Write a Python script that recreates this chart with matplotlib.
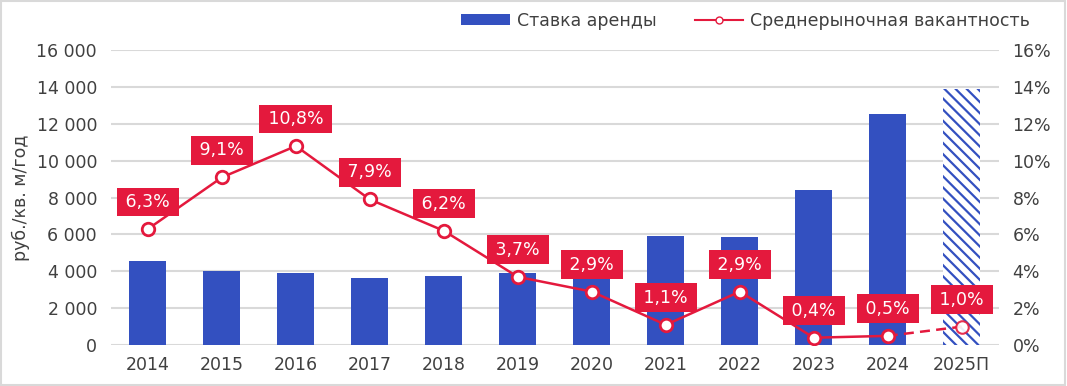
import numpy as np
import matplotlib
matplotlib.use("Agg")
import matplotlib.pyplot as plt
from matplotlib.patches import Rectangle
from matplotlib.lines import Line2D
from matplotlib.patches import Patch

years = ["2014", "2015", "2016", "2017", "2018", "2019", "2020", "2021", "2022", "2023", "2024", "2025П"]
rent = [4560, 4000, 3910, 3640, 3750, 3910, 3750, 5920, 5850, 8420, 12550, 13900]
vacancy = [6.3, 9.1, 10.8, 7.9, 6.2, 3.7, 2.9, 1.1, 2.9, 0.4, 0.5, 1.0]

blue = "#3350C0"
red = "#E4193D"
txt = "#404040"

plt.rcParams["font.family"] = ["DejaVu Sans"]
plt.rcParams["hatch.linewidth"] = 1.6
plt.rcParams["hatch.color"] = blue

fig = plt.figure(figsize=(10.67, 3.86), dpi=100)
ax = fig.add_axes([0.104, 0.106, 0.832, 0.764])
ax2 = ax.twinx()

x = np.arange(len(years))
ax.bar(x[:-1], rent[:-1], width=0.5, color=blue, zorder=2)
ax.bar(x[-1], rent[-1], width=0.5, color="white", edgecolor=blue, linewidth=0,
       hatch="\\\\\\", zorder=2)

ax.set_ylim(0, 16000)
ax.set_yticks(np.arange(0, 16001, 2000))
ax.set_yticklabels([f"{v:,}".replace(",", " ") for v in range(0, 16001, 2000)])
ax.set_xlim(-0.5, len(years) - 0.5)
ax.set_xticks(x)
ax.set_xticklabels(years)
ax.grid(axis="y", color="#d9d9d9", linewidth=1.5, zorder=0)
ax.set_axisbelow(True)
ax.set_ylabel("руб./кв. м/год", fontsize=12.5, color=txt, labelpad=5)
ax.tick_params(length=0, labelsize=12.5, labelcolor=txt, pad=10)
ax.tick_params(axis="x", pad=8)

ax2.set_ylim(0, 16)
ax2.set_yticks(np.arange(0, 17, 2))
ax2.set_yticklabels([f"{v}%" for v in range(0, 17, 2)])
ax2.tick_params(length=0, labelsize=12.5, labelcolor=txt, pad=10)

for a in (ax, ax2):
    for s in a.spines.values():
        s.set_visible(False)

ax2.plot(x[:-1], vacancy[:-1], color=red, linewidth=1.8, zorder=3)
ax2.plot(x[-2:], vacancy[-2:], color=red, linewidth=1.8, linestyle=(0, (4, 2.5)), zorder=3)
ax2.plot(x[:-1], vacancy[:-1], linestyle="none", marker="o", markersize=9, markerfacecolor="white",
         markeredgecolor=red, markeredgewidth=2, zorder=4)
ax2.plot(x[-1:], vacancy[-1:], linestyle="none", marker="o", markersize=9, markerfacecolor="white",
         markeredgecolor=red, markeredgewidth=1.5, alpha=0.9, zorder=4)

for xi, v in zip(x, vacancy):
    ax2.annotate("\u2009" + f"{v:.1f}%".replace(".", ",") + "\u2009", (xi, v), xytext=(0, 19.5),
                 textcoords="offset points", ha="center", va="center",
                 fontsize=12.5, color="white", zorder=5,
                 bbox=dict(boxstyle="square,pad=0.31", facecolor=red, edgecolor="none"))

handles = [Patch(facecolor=blue, edgecolor="none"),
           Line2D([], [], color=red, linewidth=1.5, marker="o", markersize=5,
                  markerfacecolor="white", markeredgecolor=red)]
fig.legend(handles, ["Ставка аренды", "Среднерыночная вакантность"], loc="upper center",
           bbox_to_anchor=(0.699, 1.01), ncol=2, frameon=False, fontsize=12.5,
           labelcolor=txt, handlelength=2.8, handleheight=0.55, handletextpad=0.4,
           columnspacing=2.2)

fig.patches.append(Rectangle((0.001, 0.003), 0.997, 0.995, transform=fig.transFigure,
                             fill=False, edgecolor="#d9d9d9", linewidth=1.5))

fig.savefig("out.png", dpi=100)
